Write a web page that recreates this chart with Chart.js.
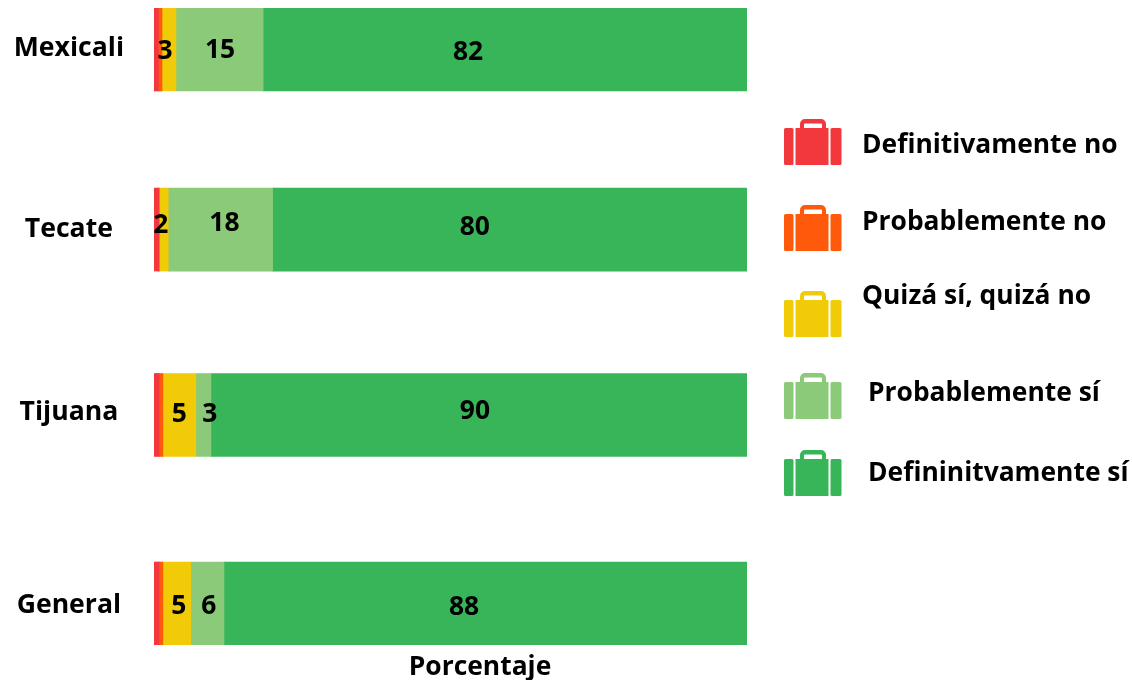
<!DOCTYPE html>
<html lang="es">
<head>
    <meta charset="UTF-8">
    <title>Porcentaje por ciudad</title>
    <style>
        html, body { margin: 0; padding: 0; background: #fff; }
        #wrap { width: 1132px; height: 680px; }
    </style>
</head>
<body>
<div id="wrap"><canvas id="chart" width="1132" height="680"></canvas></div>

<script src="https://cdn.jsdelivr.net/npm/chart.js"></script>
<script>
    // Datos
    const ciudades = ['Mexicali', 'Tecate', 'Tijuana', 'General'];
    const definitivamenteNo = [0.75, 0.8, 0.85, 0.85];
    const probablementeNo = [0.6, 0.1, 0.65, 0.65];
    const quizaSiQuizaNo = [2.35, 1.5, 5.55, 4.7];
    const probablementeSi = [14.7, 17.6, 2.55, 5.6];
    const definitivamenteSi = [81.6, 80, 90.4, 88.2];

    // Textos que se leen sobre las barras
    const etiquetasQuiza = ['3', '2', '5', '5'];
    const etiquetasProbSi = ['15', '18', '3', '6'];
    const etiquetasDefSi = ['82', '80', '90', '88'];

    const nombresLeyenda = ['Definitivamente no', 'Probablemente no', 'Quizá sí, quizá no', 'Probablemente sí', 'Defininitvamente sí'];
    const colores = ['#f2383c', '#ff5a0c', '#f1cb08', '#8aca78', '#39b559'];
    const tituloEje = 'Porcentaje';

    // Disposicion: las filas no estan igual de separadas en el original
    const filas = [0, 0.975, 1.979, 3];
    const filasTexto = [-0.008, 0.977, 1.963, 3.008];
    const FUENTE = 'bold 26.4px "Open Sans"';

    // Ajuste a mano de cada etiqueta [dx, dy] respecto al centro del segmento
    const ajustes = {
        2: [[-4, 1.5], [-3, -4.5], [0, 0], [2, 2.5]],
        3: [[0.5, 0.5], [4, -6.5], [6.5, 0], [1.5, 2.5]],
        4: [[-37, 2.5], [-35, -2.5], [-4, -3], [-21.5, 3.5]]
    };
    const textos = { 2: etiquetasQuiza, 3: etiquetasProbSi, 4: etiquetasDefSi };

    // Leyenda: [x icono, y icono, x texto, y texto]
    const posLeyenda = [
        [784, 119, 862, 145],
        [784, 205, 862, 222],
        [784, 291, 862, 296],
        [784, 373, 868, 393],
        [784, 450, 868, 473]
    ];

    function serie(valores) {
        return valores.map((v, i) => ({ x: v, y: filas[i] }));
    }

    function maleta(c, x, y, color) {
        c.fillStyle = color;
        c.beginPath();
        c.roundRect(x + 16, y, 26, 10, [5, 5, 0, 0]);
        c.roundRect(x + 20, y + 4.5, 18, 5.5, 1);
        c.fill('evenodd');
        c.beginPath();
        c.roundRect(x, y + 9, 9.5, 37, 1.5);
        c.roundRect(x + 11.5, y + 9, 33, 37, 0);
        c.roundRect(x + 46.5, y + 9, 11, 37, 1.5);
        c.fill();
    }

    const textosPlugin = {
        id: 'textosPlugin',
        afterDatasetsDraw(chart) {
            const c = chart.ctx;
            c.save();
            c.font = FUENTE;
            c.fillStyle = '#000';
            c.textAlign = 'center';
            c.textBaseline = 'middle';
            Object.keys(textos).forEach(ds => {
                chart.getDatasetMeta(ds).data.forEach((bar, i) => {
                    const centro = bar.getCenterPoint();
                    c.fillText(textos[ds][i], centro.x + ajustes[ds][i][0], centro.y + ajustes[ds][i][1]);
                });
            });

            c.fillText(tituloEje, 480, 667.5);

            c.textAlign = 'left';
            nombresLeyenda.forEach((nombre, i) => {
                const p = posLeyenda[i];
                maleta(c, p[0], p[1], colores[i]);
                c.fillStyle = '#000';
                c.fillText(nombre, p[2], p[3]);
            });
            c.restore();
        }
    };

    new Chart(document.getElementById('chart').getContext('2d'), {
        type: 'bar',
        data: {
            datasets: [definitivamenteNo, probablementeNo, quizaSiQuizaNo, probablementeSi, definitivamenteSi].map((valores, i) => ({
                label: nombresLeyenda[i],
                data: serie(valores),
                backgroundColor: colores[i],
                borderWidth: 0,
                barThickness: 83
            }))
        },
        options: {
            indexAxis: 'y',
            responsive: false,
            animation: false,
            layout: { padding: { top: 8, right: 385, bottom: 35, left: 0 } },
            plugins: { legend: { display: false }, tooltip: { enabled: false } },
            scales: {
                x: { stacked: true, min: 0, max: 100, display: false },
                y: {
                    type: 'linear',
                    stacked: true,
                    reverse: true,
                    offset: false,
                    min: -0.2247,
                    max: 3.2247,
                    grid: { display: false, drawTicks: false },
                    border: { display: false },
                    afterBuildTicks(scale) {
                        scale.ticks = filasTexto.map(v => ({ value: v }));
                    },
                    afterFit(scale) {
                        scale.width = 154;
                        scale.paddingTop = 0;
                        scale.paddingBottom = 0;
                    },
                    ticks: {
                        autoSkip: false,
                        crossAlign: 'center',
                        padding: 30,
                        color: '#000',
                        font: { family: '"Open Sans"', size: 26.6, weight: 'bold' },
                        callback: (value, index) => ciudades[index]
                    }
                }
            }
        },
        plugins: [textosPlugin]
    });
</script>
</body>
</html>
